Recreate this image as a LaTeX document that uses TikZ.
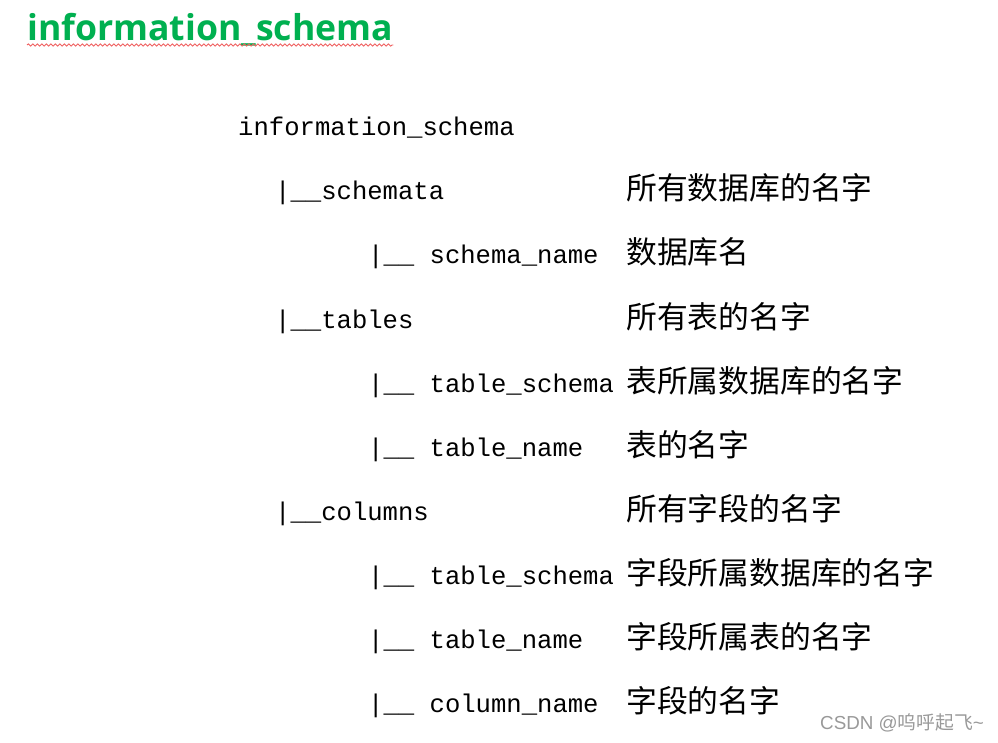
\documentclass[tikz,border=0pt]{standalone}
\usepackage{fontspec}
\setmainfont{Liberation Sans}
\newfontfamily\cjk{Noto Sans CJK SC}
\newfontfamily\codefont{Liberation Mono}
\newfontfamily\titlefont{Open Sans}
\usetikzlibrary{decorations.pathmorphing}
\definecolor{titlegreen}{HTML}{00B050}
\definecolor{wavered}{HTML}{F06060}
\tikzset{
  ttl/.style  ={anchor=base west, inner sep=0pt, text=titlegreen,
                font=\titlefont\bfseries\fontsize{35.6}{40}\selectfont},
  code/.style ={anchor=base west, inner sep=0pt, font=\codefont\fontsize{25.6}{28}\selectfont},
  desc/.style ={anchor=base west, inner sep=0pt, font=\cjk\fontsize{30.8}{34}\selectfont},
  wmark/.style={anchor=base west, inner sep=0pt, text=black!40, font=\fontsize{18.8}{20}\selectfont},
  wavy/.style ={draw=wavered, line width=0.9pt, decorate,
                decoration={snake, amplitude=1.1pt, segment length=4.5pt}},
}
\begin{document}
\begin{tikzpicture}[x=1pt, y=-1pt]
\useasboundingbox[fill=white] (0,0) rectangle (998,743);
% title
\node[ttl] (title) at (27,41) {information\_schema};
\draw[wavy] ([yshift=-4pt]title.base west) -- ([yshift=-4pt]title.base east);
% tree
\node[code] (root) at (238,136) {information\_schema};
\node[code] (sch)  at (275,200) {|\_\_schemata};
\node[code] (schn) at (368,264) {|\_\_ schema\_name};
\node[code] (tab)  at (275,328) {|\_\_tables};
\node[code] (tabs) at (368,392) {|\_\_ table\_schema};
\node[code] (tabn) at (368,456) {|\_\_ table\_name};
\node[code] (col)  at (275,520) {|\_\_columns};
\node[code] (cols) at (368,584) {|\_\_ table\_schema};
\node[code] (colt) at (368,648) {|\_\_ table\_name};
\node[code] (coln) at (368,712) {|\_\_ column\_name};
% descriptions
\node[desc] (d1) at (626,200) {所有数据库的名字};
\node[desc] (d2) at (626,264) {数据库名};
\node[desc] (d3) at (626,328) {所有表的名字};
\node[desc] (d4) at (626,392) {表所属数据库的名字};
\node[desc] (d5) at (626,456) {表的名字};
\node[desc] (d6) at (626,520) {所有字段的名字};
\node[desc] (d7) at (626,584) {字段所属数据库的名字};
\node[desc] (d8) at (626,648) {字段所属表的名字};
\node[desc] (d9) at (626,712) {字段的名字};
% watermark
\node[wmark] (wm) at (820,729) {CSDN @{\cjk 呜呼起飞}\textasciitilde};
\end{tikzpicture}
\end{document}
